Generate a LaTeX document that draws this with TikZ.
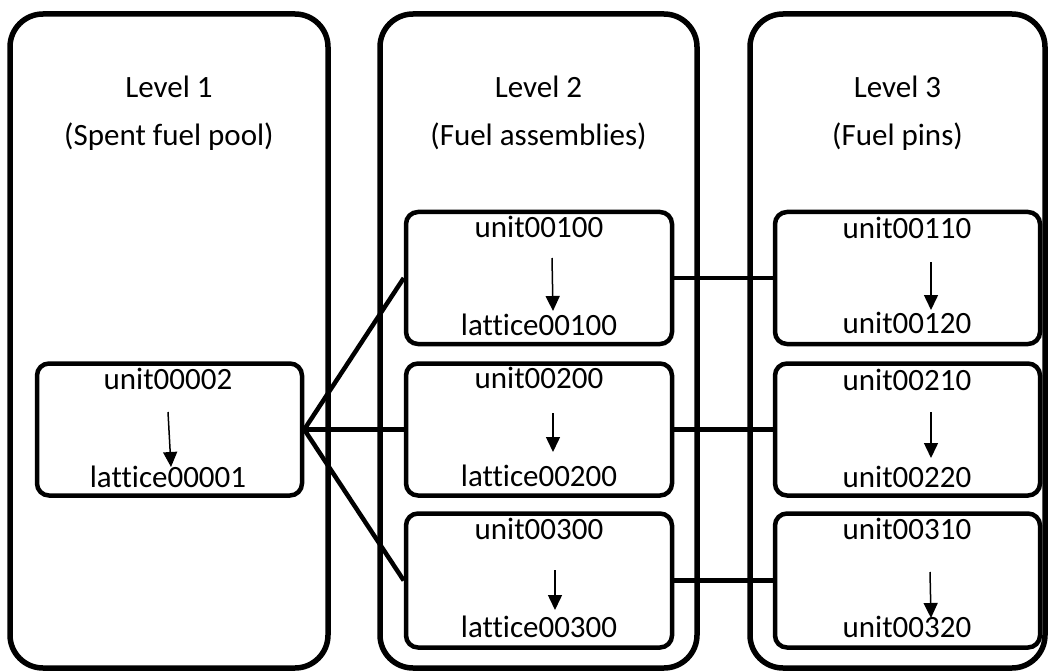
\documentclass[tikz,border=0pt]{standalone}
\usepackage{fontspec}
\setmainfont{Carlito}[Ligatures={NoCommon}]
\usetikzlibrary{arrows.meta}
\begin{document}
\begin{tikzpicture}[x=1pt,y=-1pt,
  panel/.style={draw=black,line width=5.5pt,rounded corners=33pt,minimum width=318pt,minimum height=654pt,inner sep=0pt},
  unitbox/.style={draw=black,line width=4.5pt,rounded corners=12pt,minimum width=265pt,minimum height=132pt,inner sep=0pt},
  lbl/.style={anchor=base,inner sep=0pt,font=\fontsize{31}{37}\selectfont},
  link/.style={line width=4.5pt},
  step arrow/.style={line width=1.5pt,-{Triangle[length=15pt,width=14pt]}}]
\useasboundingbox (0,0) rectangle (1057,671);

% level panels
\node[panel] (p1) at (169,341) {};
\node[panel,minimum width=317pt] (p2) at (538.5,341) {};
\node[panel,minimum width=295pt] (p3) at (897.5,341) {};

% panel headings
\node[lbl] (h1a) at (169,98) {Level 1};
\node[lbl] (h1b) at (169,146) {(Spent fuel pool)};
\node[lbl] (h2a) at (538.5,98) {Level 2};
\node[lbl] (h2b) at (538.5,146) {(Fuel assemblies)};
\node[lbl] (h3a) at (897.5,98) {Level 3};
\node[lbl] (h3b) at (897.5,146) {(Fuel pins)};

% unit boxes
\node[unitbox] (b1) at (169.5,429.5) {};
\node[unitbox,minimum width=266pt] (b21) at (539,278) {};
\node[unitbox,minimum width=266pt] (b22) at (539,429.5) {};
\node[unitbox,minimum width=266pt,minimum height=134pt] (b23) at (539,580.5) {};
\node[unitbox] (b31) at (907.5,278) {};
\node[unitbox] (b32) at (907.5,429.5) {};
\node[unitbox,minimum height=134pt] (b33) at (907.5,580.5) {};

% box contents
\node[lbl] (t1a) at (168,389) {unit00002};
\node[lbl] (t1b) at (168,487) {lattice00001};
\node[lbl] (t21a) at (539,237) {unit00100};
\node[lbl] (t21b) at (539,335) {lattice00100};
\node[lbl] (t22a) at (539,388) {unit00200};
\node[lbl] (t22b) at (539,486) {lattice00200};
\node[lbl] (t23a) at (539,539) {unit00300};
\node[lbl] (t23b) at (539,637) {lattice00300};
\node[lbl] (t31a) at (907,238) {unit00110};
\node[lbl] (t31b) at (907,333) {unit00120};
\node[lbl] (t32a) at (907,390) {unit00210};
\node[lbl] (t32b) at (907,487) {unit00220};
\node[lbl] (t33a) at (907,539) {unit00310};
\node[lbl] (t33b) at (907,637) {unit00320};

% arrow end points
\coordinate (a1s) at (168,412);  \coordinate (a1e) at (171,467);
\coordinate (a21s) at (552,258); \coordinate (a21e) at (553,311);
\coordinate (a22s) at (553,413); \coordinate (a22e) at (553,452);
\coordinate (a23s) at (555,570); \coordinate (a23e) at (555,610);
\coordinate (a31s) at (931,262); \coordinate (a31e) at (931,310);
\coordinate (a32s) at (931,412); \coordinate (a32e) at (931,458);
\coordinate (a33s) at (930,572); \coordinate (a33e) at (931,618);

\draw[step arrow] (a1s) -- (a1e);
\draw[step arrow] (a21s) -- (a21e);
\draw[step arrow] (a22s) -- (a22e);
\draw[step arrow] (a23s) -- (a23e);
\draw[step arrow] (a31s) -- (a31e);
\draw[step arrow] (a32s) -- (a32e);
\draw[step arrow] (a33s) -- (a33e);

% links between levels
\draw[link] (b1.east) -- (b21.west);
\draw[link] (b1.east) -- (b22.west);
\draw[link] (b1.east) -- (b23.west);
\draw[link] (b21.east) -- (b31.west);
\draw[link] (b22.east) -- (b32.west);
\draw[link] (b23.east) -- (b33.west);
\end{tikzpicture}
\end{document}
